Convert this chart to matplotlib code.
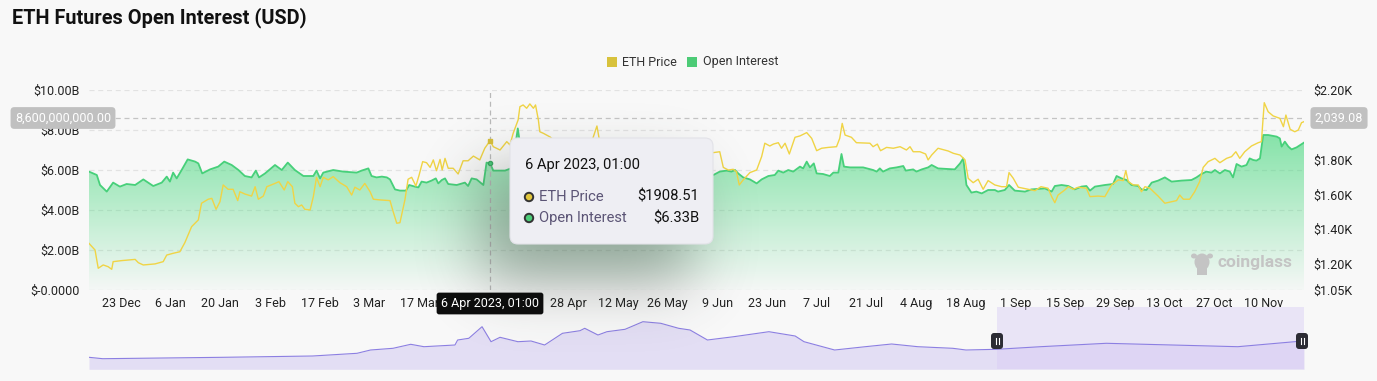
import numpy as np
import pandas as pd
import matplotlib
matplotlib.use("Agg")
import matplotlib.pyplot as plt
import matplotlib.dates as mdates
from matplotlib.patches import FancyBboxPatch, Rectangle, Circle, Ellipse

plt.rcParams['font.family'] = ['Roboto', 'DejaVu Sans']

# ---------------- data ----------------
start_date = "2022-12-14"
end_offset = 342.3
hover_date = "2023-04-06 01:00"
hover_price = 1908.51
hover_oi = 6.33
cross_oi_label = "8,600,000,000.00"
cross_oi_value = 8.6
cross_price_label = "2,039.08"

# Open interest (USD billions), days since start_date
oi_days = [0.0, 2.2, 3.1, 5.0, 6.8, 8.7, 10.6, 13.0, 15.3, 18.1, 20.5, 21.9, 22.8, 23.7, 24.7, 26.1, 27.8, 29.9,
           30.8, 31.9, 34.1, 36.4, 38.1, 40.2, 42.1, 43.9, 45.8, 47.0, 47.9, 49.6, 52.4, 54.3, 56.0, 58.0, 60.4,
           63.2, 64.1, 65.1, 66.0, 68.8, 71.6, 75.4, 76.8, 78.7, 79.6, 81.0, 82.5, 83.9, 84.8, 86.2, 87.6, 89.3,
           90.2, 91.8, 92.8, 93.7, 95.1, 96.5, 97.7, 98.4, 99.4, 100.3, 101.2, 103.6, 105.9, 106.8, 107.8, 109.2,
           111.1, 112.0, 113.0, 113.9, 115.8, 117.2, 119.2, 120.8, 122.0, 124.2, 128.5, 132.7, 136.9, 141.1,
           143.9, 146.8, 151.0, 155.2, 159.4, 163.7, 167.9, 172.1, 175.9, 177.7, 179.6, 181.0, 182.0, 182.9,
           184.3, 186.2, 188.1, 189.5, 191.4, 193.2, 194.2, 195.6, 197.0, 198.4, 200.3, 201.2, 202.2, 203.1,
           204.2, 205.0, 206.8, 208.7, 209.7, 211.1, 212.0, 212.7, 214.4, 218.1, 220.9, 221.9, 222.8, 223.7,
           225.6, 227.5, 229.4, 230.1, 232.2, 233.1, 234.6, 236.4, 237.4, 239.2, 243.9, 245.4, 246.3, 247.2,
           248.6, 250.0, 251.5, 253.3, 255.2, 256.1, 258.0, 259.2, 260.8, 263.7, 265.5, 269.3, 271.2, 272.1,
           274.0, 275.9, 277.7, 279.6, 281.0, 282.0, 283.4, 286.2, 288.5, 289.5, 290.9, 292.3, 293.7, 295.6,
           296.5, 297.9, 299.4, 301.2, 303.1, 305.0, 307.8, 310.6, 312.0, 313.4, 314.8, 316.2, 317.2, 318.6,
           320.0, 321.4, 322.3, 323.3, 324.7, 326.1, 327.0, 328.0, 328.9, 329.9, 330.8, 332.2, 334.6, 335.5,
           336.0, 336.9, 337.9, 338.8, 340.2, 342.3]
oi_values = [5.92, 5.75, 5.25, 4.92, 5.37, 5.17, 5.3, 5.25, 5.53, 5.2, 5.37, 5.67, 5.42, 5.87, 5.58, 6.0, 6.53, 6.42,
             6.33, 5.83, 6.03, 6.17, 6.42, 6.25, 6.0, 5.7, 5.63, 5.97, 5.63, 5.83, 6.25, 6.0, 6.37, 6.0, 5.7,
             5.7, 5.97, 5.58, 5.87, 6.0, 5.92, 5.87, 5.97, 6.08, 5.7, 5.63, 5.67, 5.63, 5.53, 5.03, 4.97, 4.97,
             5.25, 5.17, 5.13, 5.42, 5.37, 5.47, 5.58, 5.33, 5.5, 5.58, 5.3, 5.25, 5.37, 5.2, 5.58, 5.53,
             5.25, 6.37, 6.33, 5.97, 5.97, 5.97, 6.1, 8.08, 6.6, 6.2, 6.0, 6.1, 5.95, 6.05,
             6.3, 6.1, 6.0, 5.9, 6.05, 5.95, 6.0, 5.85, 5.75, 5.92, 5.97, 5.92, 6.0, 5.83,
             5.63, 5.53, 5.33, 5.53, 5.7, 5.75, 5.97, 5.87, 6.0, 5.92, 6.17, 6.08, 6.42, 6.13,
             6.33, 5.83, 5.8, 5.7, 5.87, 5.87, 6.8, 6.17, 6.13, 6.13, 6.0, 5.92, 6.08, 5.92,
             6.08, 6.13, 6.2, 5.97, 6.03, 5.92, 6.03, 6.13, 6.25, 6.08, 6.03, 6.33, 6.58, 5.25,
             4.87, 4.92, 4.83, 5.0, 5.0, 4.92, 5.0, 5.25, 4.97, 4.92, 5.03, 5.08, 4.92, 5.2,
             5.25, 5.2, 5.03, 5.17, 5.2, 4.97, 5.17, 5.25, 5.3, 5.7, 5.58, 5.5, 5.25, 5.2,
             5.03, 5.0, 5.37, 5.47, 5.63, 5.42, 5.47, 5.5, 5.63, 5.8, 5.92, 5.87, 6.0, 5.83,
             6.0, 5.92, 5.63, 6.3, 6.17, 6.25, 6.58, 6.5, 6.47, 6.58, 7.75, 7.75, 7.67, 7.58,
             7.17, 7.42, 7.17, 7.03, 7.13, 7.37]

# ETH price (USD), days since start_date
price_days = [0.0, 1.7, 2.6, 4.0, 5.4, 6.4, 6.8, 9.2, 13.0, 13.9, 15.3, 18.6, 20.9, 21.9, 23.7, 25.6, 27.0, 28.9,
              30.8, 31.7, 33.6, 34.6, 35.8, 36.9, 37.8, 39.2, 40.6, 41.9, 42.5, 43.9, 45.8, 46.8, 47.7, 49.1,
              50.1, 52.4, 53.5, 55.0, 56.0, 57.3, 58.0, 59.0, 59.9, 60.8, 62.3, 63.2, 64.1, 65.1, 66.0, 67.4,
              68.8, 70.7, 72.6, 74.0, 74.9, 76.3, 77.7, 79.2, 80.1, 82.0, 84.8, 85.7, 86.7, 87.6, 89.0, 89.9,
              90.9, 92.1, 93.0, 94.0, 95.1, 96.1, 97.0, 97.9, 98.9, 99.5, 100.3, 101.2, 102.6, 104.0, 105.4,
              106.8, 108.3, 110.1, 111.5, 113.0, 113.9, 115.8, 117.7, 118.6, 119.5, 120.9, 121.4, 122.3, 123.3,
              124.2, 125.2, 125.8, 126.6, 127.0, 128.0, 129.9, 132.7, 135.5, 138.3, 141.1, 143.1, 143.9, 147.3,
              151.0, 155.2, 159.4, 163.7, 167.9, 172.1, 175.9, 177.7, 178.7, 180.1, 181.5, 182.4, 183.2, 184.3,
              186.2, 188.1, 189.5, 190.4, 191.8, 192.8, 194.2, 195.1, 196.1, 197.3, 198.9, 200.3, 202.2, 203.6,
              205.0, 206.4, 208.3, 210.6, 211.5, 212.2, 213.0, 214.8, 216.2, 220.0, 220.9, 222.1, 223.0, 224.7,
              226.6, 228.5, 230.3, 231.3, 232.2, 234.1, 235.7, 236.4, 237.4, 239.2, 242.1, 243.5, 245.4, 246.8,
              247.7, 249.1, 250.5, 251.9, 253.3, 255.2, 257.1, 258.5, 259.2, 260.4, 261.8, 264.6, 266.5, 268.2,
              270.2, 271.2, 272.1, 273.0, 274.9, 275.9, 277.3, 278.7, 281.0, 282.0, 284.3, 286.2, 288.1, 290.0,
              291.4, 292.1, 292.8, 294.2, 295.6, 296.5, 297.5, 298.9, 301.2, 303.1, 305.0, 306.4, 307.3, 308.3,
              310.1, 311.5, 312.9, 313.9, 315.3, 317.2, 318.6, 320.5, 321.9, 323.1, 324.2, 325.6, 327.5, 329.4,
              330.3, 331.1, 332.2, 333.6, 335.5, 336.5, 337.2, 338.4, 339.7, 340.7, 341.6, 342.3]
price_values = [1318, 1280, 1175, 1194, 1184, 1169, 1213, 1219, 1226, 1207, 1194, 1200, 1213, 1251, 1261, 1270, 1322, 1414,
                1453, 1549, 1572, 1577, 1514, 1558, 1654, 1629, 1629, 1564, 1615, 1602, 1590, 1644, 1572, 1590,
                1644, 1663, 1673, 1625, 1673, 1644, 1549, 1529, 1539, 1514, 1510, 1587, 1698, 1644, 1698, 1683,
                1702, 1667, 1644, 1596, 1641, 1625, 1663, 1615, 1572, 1568, 1564, 1500, 1434, 1437, 1568, 1687,
                1698, 1648, 1711, 1788, 1782, 1755, 1798, 1736, 1801, 1740, 1807, 1750, 1750, 1717, 1793,
                1793, 1820, 1798, 1865, 1908.51, 1874, 1855, 1903, 1884, 1951, 2028, 2104, 2114, 2095,
                2120, 2095, 2114, 2028, 1960, 1951, 1930, 1880, 1860, 1900, 1870, 1993, 1900, 1830,
                1800, 1780, 1770, 1800, 1830, 1860, 1840, 1845, 1755, 1740, 1744, 1730, 1654, 1683,
                1725, 1740, 1817, 1894, 1878, 1889, 1897, 1865, 1894, 1832, 1928, 1936, 1955, 1922,
                1851, 1865, 1870, 1874, 1922, 2008, 1941, 1928, 1897, 1894, 1874, 1889, 1851, 1870,
                1865, 1874, 1855, 1874, 1845, 1845, 1832, 1798, 1826, 1865, 1849, 1836, 1826, 1798,
                1692, 1667, 1687, 1629, 1679, 1654, 1644, 1644, 1725, 1692, 1641, 1629, 1621, 1644,
                1635, 1587, 1552, 1596, 1625, 1644, 1629, 1641, 1635, 1587, 1590, 1587, 1654, 1683,
                1679, 1736, 1673, 1654, 1654, 1615, 1644, 1635, 1590, 1549, 1558, 1564, 1596, 1572,
                1572, 1615, 1673, 1755, 1788, 1807, 1782, 1807, 1817, 1845, 1807, 1845, 1878, 1897,
                1903, 2127, 2075, 2051, 2037, 1989, 2056, 1974, 1960, 1970, 2012, 2018]

# navigator (long history overview, relative units)
nav_pos = [0, 11.3, 110.3, 184, 220.6, 231.7, 250.2, 264.8, 275.7, 301.2, 303.4, 312.6, 323.5, 330.9, 338.3,
           353, 363.8, 375, 389.7, 404.1, 408, 418.9, 426.3, 441.2, 455.9, 470.6, 485.3, 494.7, 509, 530.7,
           559.6, 581.2, 588.5, 613.7, 638.9, 660.6, 682.2, 711, 721.8, 747.1, 783.2, 837.3, 891.4, 945.5,
           992.3, 1000]
nav_values = [2.4, 2.12, 2.4, 2.66, 3.2, 3.86, 4.2, 5.0, 4.52, 4.86, 5.86, 6.2, 8.52, 5.52, 6.4,
              5.52, 5.66, 4.86, 7.2, 7.72, 8.2, 6.86, 7.52, 8.0, 9.52, 9.2, 8.2, 7.86, 5.86, 6.52,
              7.52, 6.66, 5.52, 3.86, 4.52, 5.06, 4.52, 4.2, 3.86, 4.0, 4.52, 5.2, 4.86, 4.52,
              5.52, 5.72]
nav_window = [747, 1000]

oi_ticks = [0, 2, 4, 6, 8, 10]
oi_tick_labels = ["$-0.0000", "$2.00B", "$4.00B", "$6.00B", "$8.00B", "$10.00B"]
# the $2.00K label sits under the crosshair value badge in the reference
price_ticks = [1050, 1200, 1400, 1600, 1800, 2000, 2200]
price_tick_labels = ["$1.05K", "$1.20K", "$1.40K", "$1.60K", "$1.80K", "", "$2.20K"]
x_tick_start = "2022-12-23"
x_tick_end = "2023-11-10"
x_hidden_ticks = ["2023-03-31", "2023-04-14"]  # covered by the crosshair date badge

title = "ETH Futures Open Interest (USD)"
series_names = ["ETH Price", "Open Interest"]

# ---------------- figure ----------------
W, H = 1377, 381
BG = '#f8f8f8'
fig = plt.figure(figsize=(W / 100, H / 100), dpi=100, facecolor=BG)


def fx(px):
    return px / W


def fy(py):
    return 1 - py / H


start = pd.Timestamp(start_date)
end = start + pd.Timedelta(days=end_offset)
oi_dates = start + pd.to_timedelta(oi_days, unit='D')
price_dates = start + pd.to_timedelta(price_days, unit='D')

GREEN_LINE = '#47d07a'
GREEN_FILL = (0.29, 0.85, 0.50)
YELLOW_LINE = '#f0d445'

L, R, T, B = 89, 1304, 90, 290
ax = fig.add_axes([fx(L), fy(B), fx(R) - fx(L), fy(T) - fy(B)])
ax.set_facecolor('none')
for s in ax.spines.values():
    s.set_visible(False)

for v in oi_ticks:
    ax.axhline(v, color='#e2e2e2', lw=0.9, ls=(0, (4, 3)), zorder=0.5)

poly = ax.fill_between(oi_dates, oi_values, 0, color='none', lw=0)
x0n, x1n = mdates.date2num(start), mdates.date2num(end)
n = 256
grad = np.linspace(0, 1, n).reshape(-1, 1)
rgba = np.zeros((n, 1, 4))
rgba[..., 0], rgba[..., 1], rgba[..., 2] = GREEN_FILL
rgba[..., 3] = np.clip(0.02 + 0.66 * grad, 0, 1)[:, :]
im = ax.imshow(rgba, extent=[x0n, x1n, 0, 8.1], origin='lower', aspect='auto', zorder=1,
               interpolation='bilinear')
im.set_clip_path(poly.get_paths()[0], transform=ax.transData)
ax.plot(oi_dates, oi_values, color=GREEN_LINE, lw=1.3, zorder=2, solid_joinstyle='round')

hover = pd.Timestamp(hover_date)
ax.axvline(hover, color='#b9b9b9', lw=0.9, ls=(0, (4, 3)), zorder=3)
ax.axhline(cross_oi_value, color='#c4c4c4', lw=0.9, ls=(0, (4, 3)), zorder=3)
ax.plot([hover], [hover_oi], marker='o', ms=3, color=GREEN_LINE, mec='#3aa862', zorder=4)

ax.set_xlim(start, end)
ax.set_ylim(0, 10)
ax.set_yticks(oi_ticks)
ax.set_yticklabels(oi_tick_labels)
xt = pd.date_range(x_tick_start, x_tick_end, freq='14D')
hidden = set(pd.to_datetime(x_hidden_ticks))
ax.set_xticks(xt)
ax.set_xticklabels(["" if d in hidden else f"{d.day} {d.strftime('%b')}" for d in xt])
ax.tick_params(axis='both', length=0, labelsize=9, colors='#222222')
ax.tick_params(axis='y', pad=7)
ax.tick_params(axis='x', pad=5)

ax2 = ax.twinx()
ax2.set_facecolor('none')
for s in ax2.spines.values():
    s.set_visible(False)
ax2.plot(price_dates, price_values, color=YELLOW_LINE, lw=1.0, zorder=2, solid_joinstyle='round')
ax2.plot([hover], [hover_price], marker='s', ms=3, color='#d8bf3a', zorder=4)
ax2.set_ylim(1050, 2200)
ax2.set_xlim(start, end)
ax2.set_yticks(price_ticks)
ax2.set_yticklabels(price_tick_labels)
ax2.tick_params(axis='y', length=0, labelsize=9, colors='#222222', pad=7)

# ---------------- navigator ----------------
NT, NB = 310, 369.3
axn = fig.add_axes([fx(L), fy(NB), fx(R) - fx(L), fy(NT) - fy(NB)])
axn.set_facecolor('none')
axn.axis('off')
axn.fill_between(nav_pos, nav_values, 0, color='#e3def4', lw=0)
axn.plot(nav_pos, nav_values, color='#8c7fe2', lw=0.8)
axn.set_xlim(0, 1000)
ymax = 11.86
axn.set_ylim(0, ymax)
axn.add_patch(Rectangle((nav_window[0], 0), nav_window[1] - nav_window[0], ymax * (NB - 307) / (NB - NT),
                        facecolor='#d8ccf5', alpha=0.45, lw=0, clip_on=False))

# ---------------- overlay (pixel coords) ----------------
ov = fig.add_axes([0, 0, 1, 1], zorder=5)
ov.set_xlim(0, W)
ov.set_ylim(H, 0)
ov.axis('off')
ov.set_facecolor('none')

# tooltip shadow
yy, xx = np.mgrid[0:H, 0:W]
mask = ((xx >= 482) & (xx <= 690) & (yy >= 172) & (yy <= 282)).astype(float)
sig = 30
k = np.exp(-0.5 * (np.arange(-3 * sig, 3 * sig + 1) / sig) ** 2)
k /= k.sum()
mb = np.apply_along_axis(lambda r: np.convolve(r, k, mode='same'), 1, mask)
mb = np.apply_along_axis(lambda c: np.convolve(c, k, mode='same'), 0, mb)
sh = np.zeros((H, W, 4))
sh[..., 0], sh[..., 1], sh[..., 2] = 0.22, 0.26, 0.23
sh[..., 3] = 0.42 * mb
ov.imshow(sh, extent=[0, W, H, 0], aspect='auto', zorder=1, interpolation='bilinear')

# tooltip box
ov.add_patch(FancyBboxPatch((510, 138), 203, 106, boxstyle='round,pad=0,rounding_size=8',
                            facecolor='#eeeef3', edgecolor='#e2e2e8', lw=0.8, zorder=3))
ov.text(525, 165, "6 Apr 2023, 01:00", fontsize=10.6, color='#111111', va='center', ha='left', zorder=4)
ov.add_patch(Circle((529, 197), 4.2, facecolor='#e2c73c', edgecolor='#333333', lw=1.4, zorder=4))
ov.add_patch(Circle((529, 218), 4.2, facecolor='#4ccd78', edgecolor='#333333', lw=1.4, zorder=4))
ov.text(539, 197, series_names[0], fontsize=10.6, color='#5b5475', va='center', ha='left', zorder=4)
ov.text(539, 218, series_names[1], fontsize=10.6, color='#5b5475', va='center', ha='left', zorder=4)
ov.text(699, 197, f"${hover_price:.2f}", fontsize=10.6, color='#111111', va='center', ha='right', zorder=4)
ov.text(699, 218, f"${hover_oi:.2f}B", fontsize=10.6, color='#111111', va='center', ha='right', zorder=4)

# crosshair labels
ov.text(63, 118, cross_oi_label, fontsize=9, color='white', ha='center', va='center', zorder=4,
        bbox=dict(boxstyle='round,pad=0.35,rounding_size=0.3', fc='#c0c0c0', ec='none'))
ov.text(1339, 118, cross_price_label, fontsize=9, color='white', ha='center', va='center', zorder=4,
        bbox=dict(boxstyle='round,pad=0.35,rounding_size=0.3', fc='#c0c0c0', ec='none'))
ov.text(490, 303.5, "6 Apr 2023, 01:00", fontsize=9, color='white', ha='center', va='center', zorder=4,
        bbox=dict(boxstyle='round,pad=0.35,rounding_size=0.2', fc='#0d0d0d', ec='none'))

# title and legend
ov.text(12, 18, title, fontsize=14.3, fontweight='bold', color='#111111', ha='left', va='center')
ov.add_patch(Rectangle((607, 57), 10, 10, facecolor='#d8c23c', lw=0))
ov.text(622, 62, series_names[0], fontsize=9, color='#333333', va='center', ha='left')
ov.add_patch(Rectangle((687, 57), 10, 10, facecolor='#4ccb76', lw=0))
ov.text(703, 62, series_names[1], fontsize=9, color='#333333', va='center', ha='left')

# watermark
ov.add_patch(Ellipse((1202, 262), 15, 17, facecolor='#c4c4c4', lw=0, zorder=2))
ov.add_patch(Rectangle((1197, 266), 10, 9, facecolor='#c4c4c4', lw=0, zorder=2))
ov.add_patch(Ellipse((1194, 256), 6, 5, facecolor='#c4c4c4', lw=0, zorder=2))
ov.add_patch(Ellipse((1210, 256), 6, 5, facecolor='#c4c4c4', lw=0, zorder=2))
ov.text(1218, 263, "coinglass", fontsize=12.5, fontweight='bold', color='#c4c4c4', ha='left', va='center',
        zorder=2)

# navigator handles
for hx in (997, 1302):
    ov.add_patch(FancyBboxPatch((hx - 6, 333), 12, 16, boxstyle='round,pad=0,rounding_size=3',
                                facecolor='#2c2c34', edgecolor='none', zorder=4))
    ov.plot([hx - 1.5, hx - 1.5], [338, 344], color='white', lw=0.8, zorder=5)
    ov.plot([hx + 1.5, hx + 1.5], [338, 344], color='white', lw=0.8, zorder=5)

fig.savefig("out.png", dpi=100, facecolor=BG)
